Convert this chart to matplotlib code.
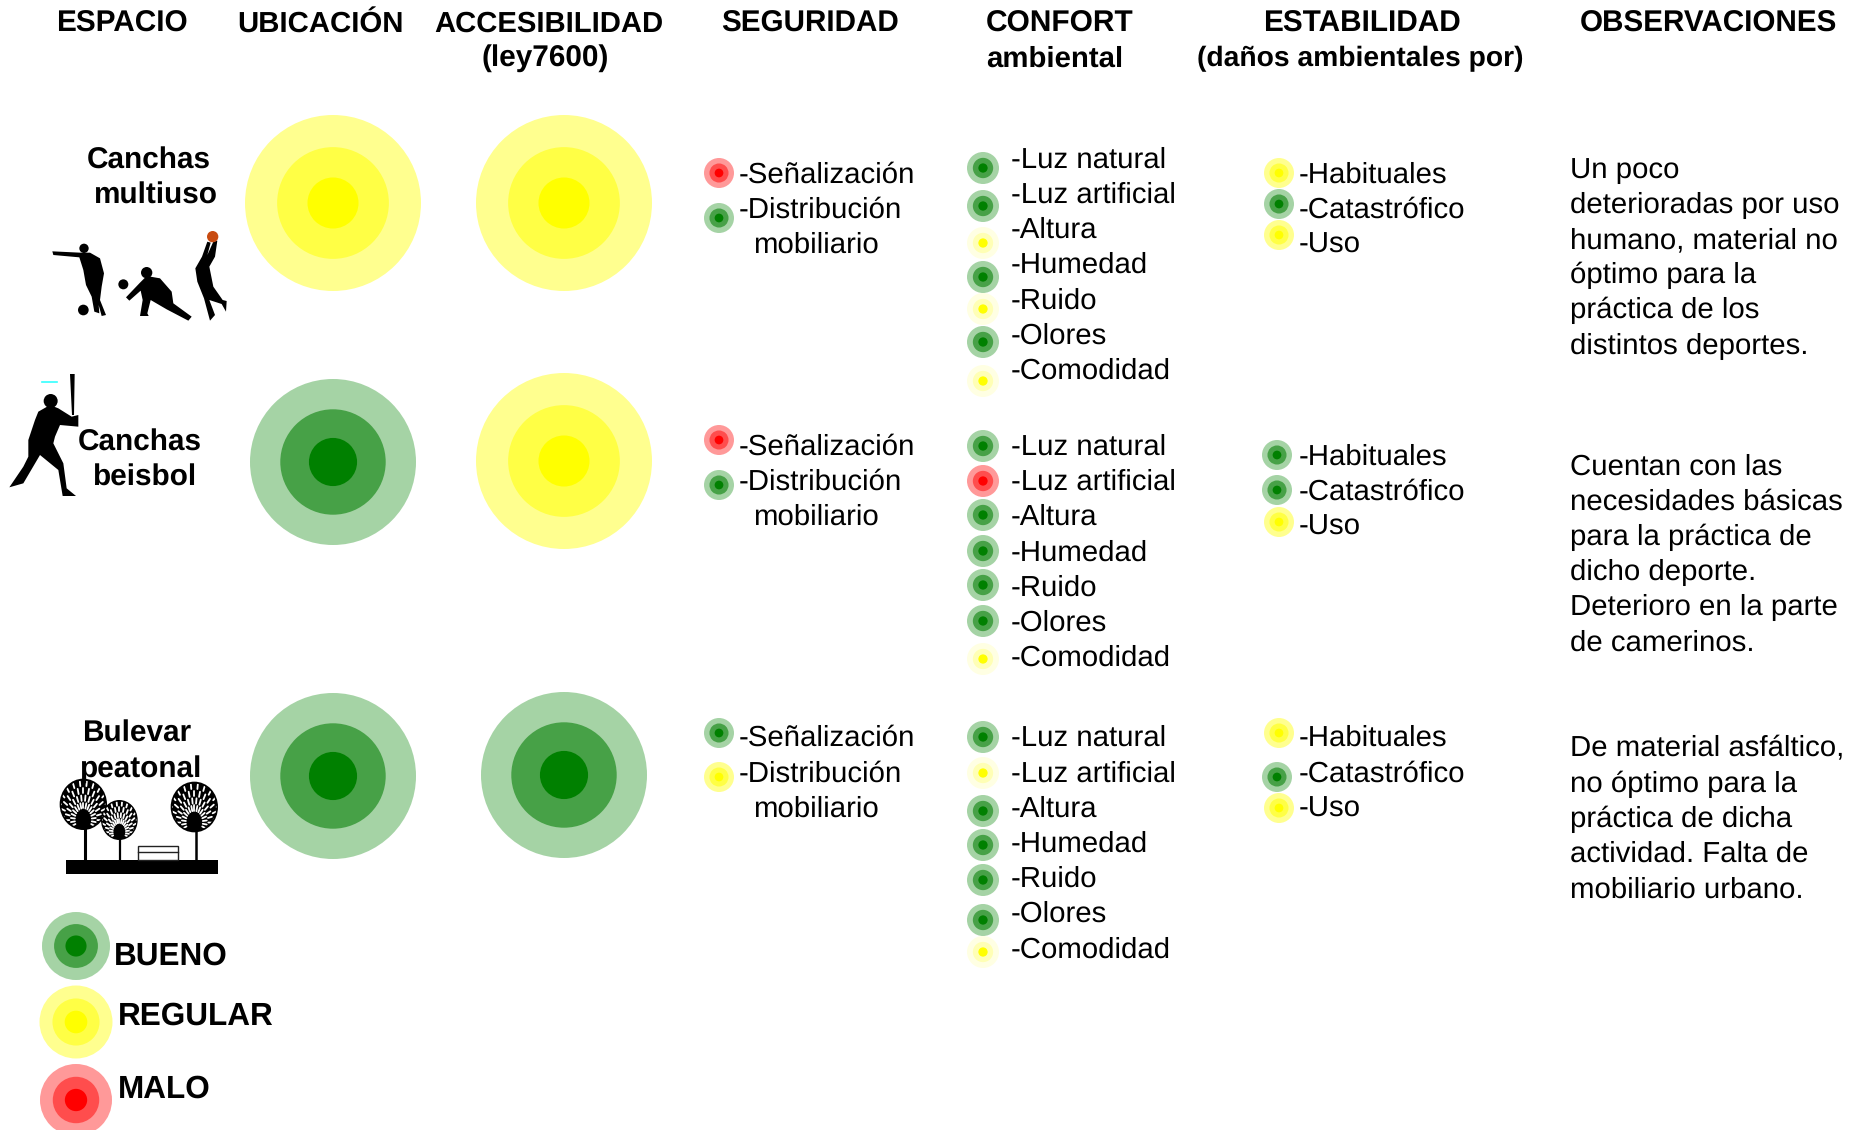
#!/usr/bin/env python3
# -*- coding: utf-8 -*-
import numpy as np
import matplotlib
matplotlib.use("Agg")
import matplotlib.pyplot as plt
from matplotlib.patches import Circle, Ellipse, Polygon, Rectangle

plt.rcParams['font.family'] = ['Liberation Sans', 'DejaVu Sans']
plt.rcParams['text.hinting'] = 'no_hinting'

W, H = 1861, 1130

# B bueno, R regular, M malo, r = regular pale (small dots)
headers = ["ESPACIO", "UBICACIÓN", "ACCESIBILIDAD", "(ley7600)", "SEGURIDAD",
           "CONFORT", "ambiental", "ESTABILIDAD", "(daños ambientales por)", "OBSERVACIONES"]
header_x = [122, 320, 549, 545, 810, 1060, 1055, 1362, 1360, 1708]
header_y = [32, 32, 32, 66, 32, 32, 67, 32, 66, 32]
header_size = [21.4, 21.2, 21.1, 21.4, 21.3, 21.5, 21.2, 21.4, 20.3, 21.3]

ubicacion = ["R", "B", "B"]
accesibilidad = ["R", "R", "B"]

seguridad_labels = ["-Señalización", "-Distribución"]
seguridad = [["M", "B"], ["M", "B"], ["B", "R"]]

confort_labels = ["-Luz natural", "-Luz artificial", "-Altura", "-Humedad", "-Ruido", "-Olores", "-Comodidad"]
confort = [["B", "B", "r", "B", "r", "B", "r"],
           ["B", "M", "B", "B", "B", "B", "r"],
           ["B", "r", "B", "B", "B", "B", "r"]]

estabilidad_labels = ["-Habituales", "-Catastrófico", "-Uso"]
estabilidad = [["R", "B", "R"], ["B", "B", "R"], ["R", "B", "R"]]

observaciones = [
    ["Un poco", "deterioradas por uso", "humano, material no", "óptimo para la", "práctica de los", "distintos deportes."],
    ["Cuentan con las", "necesidades básicas", "para la práctica de", "dicho deporte.", "Deterioro en la parte", "de camerinos."],
    ["De material asfáltico,", "no óptimo para la", "práctica de dicha", "actividad. Falta de", "mobiliario urbano."],
]

legend_labels = ["BUENO", "REGULAR", "MALO"]
legend_codes = ["B", "R", "M"]

# layout, in pixels of the picture
big_y = [203, 461, 775]
big_r = {"R": 88, "B": 83}
seg_dot_y = [[173, 218], [440, 485], [733, 777]]
seg_text_y = [[175, 210, 245], [447, 482, 517], [738, 774, 809]]
conf_dot_y = [[168, 206, 243, 277, 309, 342, 381],
              [446, 481, 515, 551, 585, 621, 659],
              [737, 773, 811, 845, 880, 920, 952]]
conf_text_y = [[160, 195, 230, 265, 301, 336, 371],
               [447, 482, 517, 553, 588, 623, 658],
               [738, 774, 809, 844, 879, 914, 950]]
est_dot_x = [[1279, 1279, 1279], [1277, 1277, 1279], [1279, 1277, 1279]]
est_dot_y = [[173, 204, 235], [455, 490, 522], [733, 777, 808]]
est_text_y = [[175, 210, 245], [457, 492, 527], [738, 774, 809]]
obs_y0 = [170, 467, 749]
obs_dy = 35.2

colors = {
    "B": ("#A5D3A5", "#47A147", "#008000"),
    "R": ("#FFFF8F", "#FFFF45", "#FFFF00"),
    "r": ("#FFFFE3", "#FFFFB5", "#FFFF00"),
    "M": ("#FF9999", "#FF4D4D", "#FF0000"),
}

fig = plt.figure(figsize=(W / 100, H / 100), dpi=100)
ax = fig.add_axes([0, 0, 1, 1])
ax.set_xlim(0, W)
ax.set_ylim(H, 0)
ax.axis('off')


def bullseye(x, y, code, r, k1=0.635, k2=0.29):
    c = colors[code]
    ax.add_patch(Circle((x, y), r, fc=c[0], ec='none'))
    ax.add_patch(Circle((x, y), r * k1, fc=c[1], ec='none'))
    ax.add_patch(Circle((x, y), r * k2, fc=c[2], ec='none'))


def txt(x, y, s, size=21.2, weight='normal', ha='left'):
    ax.text(x, y, s, fontsize=size, fontweight=weight, ha=ha, va='center', color='black', zorder=5)


# zoom crop pixels -> picture pixels
def shape(points, ox, oy, color='black'):
    pts = [(px / 3 + ox, py / 3 + oy) for px, py in points]
    ax.add_patch(Polygon(pts, closed=True, fc=color, ec='none'))


def disc(px, py, r, ox, oy, color='black'):
    ax.add_patch(Circle((px / 3 + ox, py / 3 + oy), r / 3, fc=color, ec='none'))


# crown drawn as a black disc with white leaf strokes fanning out of the trunk
def tree(px, py, rx, ry, ox, oy):
    cx, cy, ax_r, ay_r = px / 3 + ox, py / 3 + oy, rx / 3, ry / 3
    ax.add_patch(Ellipse((cx, cy), 2 * ax_r, 2 * ay_r, fc='black', ec='none'))
    rows = [(0.45, 0.66), (0.74, 0.95), (1.03, 1.24), (1.32, 1.5)]
    for n, (f0, f1) in enumerate(rows):
        for a in np.arange(-112, 113, 14) + (n % 2) * 7:
            t = np.radians(a)
            bx = cx + 0.8 * f0 * ax_r * np.sin(t), cx + 0.8 * f1 * ax_r * np.sin(t)
            by = cy + 0.6 * ay_r - f0 * ay_r * np.cos(t), cy + 0.6 * ay_r - f1 * ay_r * np.cos(t)
            line, = ax.plot(bx, by, color='white', lw=1.3, solid_capstyle='round')
            line.set_clip_path(Ellipse((cx, cy), 1.86 * ax_r, 1.86 * ay_r, transform=ax.transData))


# headers
for x, y, h, sz in zip(header_x, header_y, headers, header_size):
    ax.text(x, y, h, fontsize=sz, fontweight='bold', ha='center', va='baseline')

# space names
txt(149, 160.5, "Canchas", size=21.4, weight='bold', ha='center')
txt(155.5, 195.5, "multiuso", size=21.4, weight='bold', ha='center')
txt(140, 442.5, "Canchas", size=21.4, weight='bold', ha='center')
txt(144, 477.5, "beisbol", size=21.4, weight='bold', ha='center')
txt(137, 733.5, "Bulevar", size=21.4, weight='bold', ha='center')
txt(140, 769.5, "peatonal", size=21.4, weight='bold', ha='center')

# big circles
for i in range(3):
    bullseye(333, big_y[i] if ubicacion[i] == "R" else big_y[i] + 1, ubicacion[i], big_r[ubicacion[i]])
    bullseye(564, big_y[i], accesibilidad[i], big_r[accesibilidad[i]])

# small lists
for i in range(3):
    for y, c in zip(seg_dot_y[i], seguridad[i]):
        bullseye(719, y, c, 15)
    for y, s in zip(seg_text_y[i], seguridad_labels + [" mobiliario"]):
        if s.startswith(" "):
            txt(753.5, y, s.strip())
        else:
            txt(739, y, s)
    for y, c in zip(conf_dot_y[i], confort[i]):
        bullseye(983, y, c, 16)
    for y, s in zip(conf_text_y[i], confort_labels):
        txt(1011, y, s)
    for x, y, c in zip(est_dot_x[i], est_dot_y[i], estabilidad[i]):
        bullseye(x, y, c, 15)
    for y, s in zip(est_text_y[i], estabilidad_labels):
        txt(1299, y, s)
    for j, line in enumerate(observaciones[i]):
        txt(1570, obs_y0[i] + j * obs_dy, line)

# legend
legend_c = [(76, 946, 34), (76, 1022, 36.5), (76, 1100, 36)]
legend_text = [(114, 956), (118, 1016), (118, 1089)]
for (x, y, r), code in zip(legend_c, legend_codes):
    bullseye(x, y, code, r, 0.645, 0.31)
for (x, y), s in zip(legend_text, legend_labels):
    txt(x, y, s, size=22.7, weight='bold')

# sports icons
ox, oy = 0, 100
disc(252, 445, 14, ox, oy)
shape([(157, 454), (240, 458), (270, 458), (300, 475), (312, 520), (305, 560), (300, 600), (318, 645),
       (305, 648), (296, 615), (298, 640), (283, 635), (275, 590), (258, 555), (250, 510), (238, 472), (160, 465)], ox, oy)
disc(250, 630, 16, ox, oy)
disc(440, 518, 17, ox, oy)
disc(370, 553, 15, ox, oy)
shape([(378, 592), (420, 548), (440, 528), (480, 535), (515, 575), (520, 610), (575, 650), (565, 662),
       (500, 628), (452, 600), (442, 640), (446, 648), (420, 648), (428, 600), (422, 572), (388, 602)], ox, oy)
shape([(622, 425), (632, 428), (622, 465), (640, 425), (652, 422), (645, 470), (628, 500), (640, 560), (668, 600),
       (680, 603), (678, 635), (665, 612), (628, 600), (645, 645), (630, 662), (612, 595), (592, 545), (586, 505),
       (606, 470)], ox, oy)
disc(638, 410, 17, ox, oy, color='#C84B11')
shape([(210, 822), (224, 822), (222, 945), (216, 945)], ox, oy)
disc(152, 903, 21, ox, oy)
shape([(115, 935), (150, 915), (175, 925), (215, 950), (235, 945), (235, 980), (180, 975), (165, 1010),
       (160, 1030), (190, 1090), (200, 1165), (228, 1188), (188, 1188), (175, 1110), (120, 1065), (70, 1150),
       (28, 1162), (70, 1100), (85, 1070), (85, 1020), (105, 960)], ox, oy)
ax.plot([125 / 3, 170 / 3], [846 / 3 + 100, 846 / 3 + 100], color='#33FFFF', lw=1.2)

# boulevard icon
ox, oy = 0, 680
tree(250, 373, 71, 77, ox, oy)
tree(358, 420, 55, 60, ox, oy)
tree(583, 381, 71, 76, ox, oy)
for px, y0, y1, lw in [(256, 400, 540, 2.2), (361, 440, 540, 1.6), (588, 410, 540, 1.8)]:
    ax.plot([px / 3, px / 3], [y0 / 3 + oy, y1 / 3 + oy], color='black', lw=lw)
ax.add_patch(Rectangle((198 / 3, 540 / 3 + oy), 457 / 3, 43 / 3, fc='black', ec='none'))
ax.add_patch(Rectangle((413 / 3, 497 / 3 + oy), 122 / 3, 43 / 3, fc='none', ec='#222222', lw=1))
ax.plot([413 / 3, 535 / 3], [517 / 3 + oy, 517 / 3 + oy], color='#222222', lw=1)

fig.savefig("out.png", dpi=100)
